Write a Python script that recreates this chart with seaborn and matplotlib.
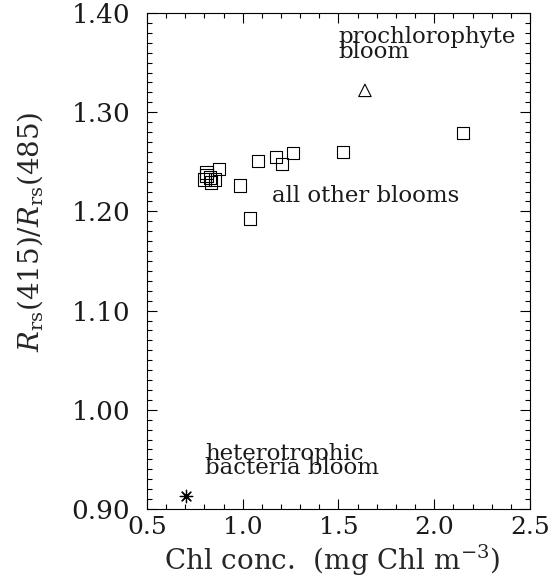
import matplotlib
matplotlib.use("Agg")
import matplotlib.pyplot as plt
import seaborn as sns
from matplotlib.ticker import MultipleLocator, FormatStrFormatter

# bloom data
other_chl = [0.80, 0.81, 0.83, 0.835, 0.855, 0.81, 0.876, 0.986, 1.038, 1.080,
             1.174, 1.205, 1.262, 1.524, 2.150]
other_ratio = [1.232, 1.239, 1.234, 1.229, 1.232, 1.236, 1.243, 1.226, 1.193, 1.251,
               1.255, 1.248, 1.259, 1.260, 1.279]
prochl_chl = [1.638]
prochl_ratio = [1.322]
hetero_chl = [0.704]
hetero_ratio = [0.913]

sns.set_style("ticks")
plt.rcParams["font.family"] = ["DejaVu Serif"]
plt.rcParams["mathtext.fontset"] = "dejavuserif"
plt.rcParams["text.color"] = "0.1"

fig = plt.figure(figsize=(5.54, 5.80), dpi=100)
ax = fig.add_axes([0.2653, 0.1224, 0.6914, 0.8552])

# open squares and triangle
sns.scatterplot(x=other_chl, y=other_ratio, marker="s", s=80,
                facecolor="none", edgecolor="black", linewidth=0.8, ax=ax)
sns.scatterplot(x=prochl_chl, y=prochl_ratio, marker="^", s=80,
                facecolor="none", edgecolor="black", linewidth=0.8, ax=ax)
# asterisk
sns.scatterplot(x=hetero_chl, y=hetero_ratio, marker=(8, 2, 0), s=80,
                color="black", linewidth=0.9, ax=ax)

ax.set_xlim(0.5, 2.5)
ax.set_ylim(0.90, 1.40)
ax.xaxis.set_major_locator(MultipleLocator(0.5))
ax.xaxis.set_minor_locator(MultipleLocator(0.1))
ax.yaxis.set_major_locator(MultipleLocator(0.1))
ax.yaxis.set_minor_locator(MultipleLocator(0.01))
ax.xaxis.set_major_formatter(FormatStrFormatter("%.1f"))
ax.yaxis.set_major_formatter(FormatStrFormatter("%.2f"))
ax.tick_params(which="both", direction="in", top=True, right=True, width=0.8,
               color="black", labelcolor="0.1")
ax.tick_params(which="major", length=7)
ax.tick_params(which="minor", length=3.5)
ax.tick_params(axis="y", which="major", pad=12, labelsize=19)
ax.tick_params(axis="x", which="major", pad=5, labelsize=18)
for sp in ax.spines.values():
    sp.set_linewidth(0.8)
    sp.set_color("black")

ax.set_xlabel(r"Chl conc.  (mg Chl m$^{-3}$)", fontsize=20, va="baseline")
ax.xaxis.set_label_coords(0.599, 0.0172, transform=fig.transFigure)
ax.set_ylabel(r"$R_{\rm rs}(415)/R_{\rm rs}(485)$", fontsize=20)
ax.yaxis.set_label_coords(-0.266, 0.56)

ax.text(1.497, 1.355, "prochlorophyte\nbloom", fontsize=16.5, linespacing=0.55, va="baseline")
ax.text(1.153, 1.209, "all other blooms", fontsize=16.5, va="baseline")
ax.text(0.803, 0.935, "heterotrophic\nbacteria bloom", fontsize=16.5, linespacing=0.55, va="baseline")

fig.savefig("out.png", dpi=100)
